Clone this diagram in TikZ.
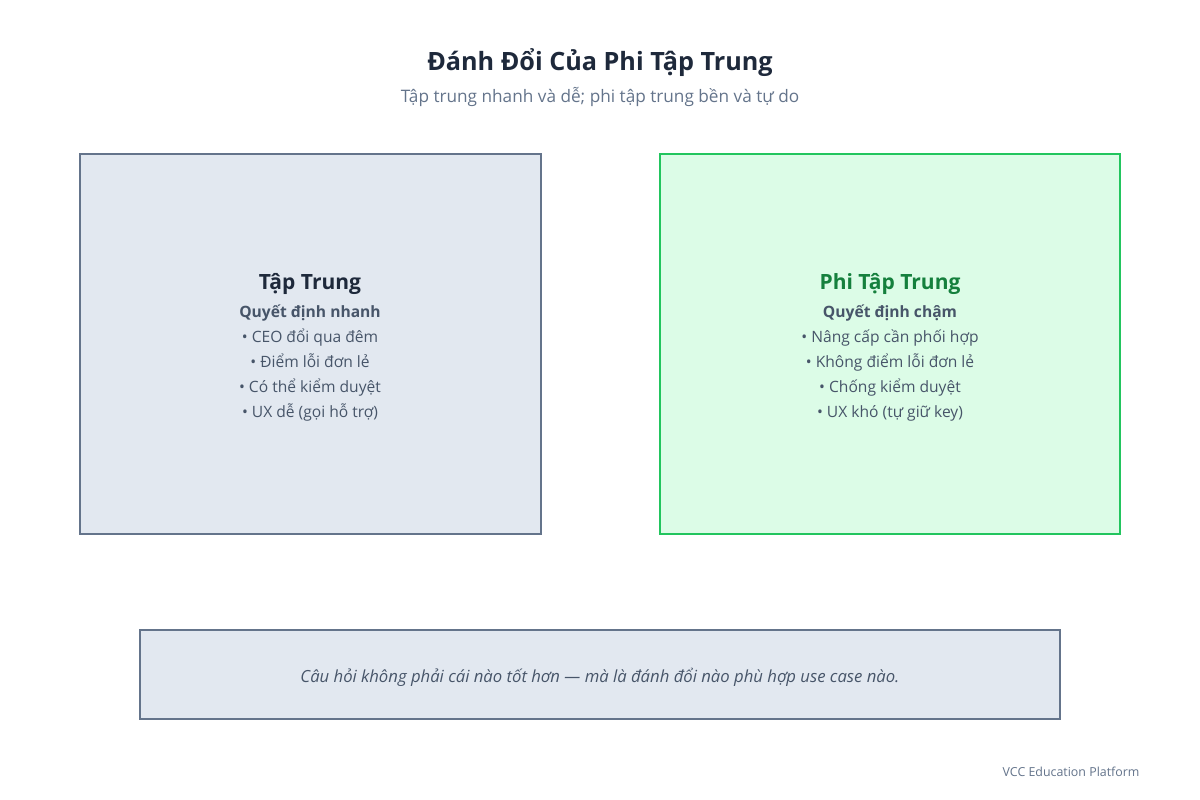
\documentclass[tikz,border=0pt]{standalone}
\usepackage{fontspec}
\setmainfont{Open Sans}
\definecolor{ink}{HTML}{1E293B}
\definecolor{slate}{HTML}{475569}
\definecolor{muted}{HTML}{64748B}
\definecolor{greyfill}{HTML}{E2E8F0}
\definecolor{greenfill}{HTML}{DCFCE7}
\definecolor{greenline}{HTML}{22C55E}
\definecolor{greenink}{HTML}{15803D}
\tikzset{
	card/.style = {draw = muted, fill = greyfill, line width = 2pt},
	greencard/.style = {draw = greenline, fill = greenfill, line width = 2pt},
	heading/.style = {font = \fontsize{21}{25}\selectfont\bfseries, text = ink},
	subhead/.style = {font = \fontsize{15.6}{19}\selectfont\bfseries, text = slate},
	bullet/.style = {font = \fontsize{15.6}{19}\selectfont, text = slate, text height = 12pt, text depth = 4pt}
}
\begin{document}
\begin{tikzpicture}[x = 1pt, y = -1pt]
		\useasboundingbox[fill = white] (0,0) rectangle (1200,800);
		\node[font = \fontsize{25.2}{30}\selectfont\bfseries, text = ink] (title) at (600,63) {Đánh Đổi Của Phi Tập Trung};
		\node[font = \fontsize{17.2}{20}\selectfont, text = muted] (subtitle) at (600,97) {Tập trung nhanh và dễ; phi tập trung bền và tự do};
		\draw[card] (80,154) rectangle (541,534);
		\node[heading] (leftHead) at (310,284) {Tập Trung};
		\node[subhead] (leftSub) at (310,313) {Quyết định nhanh};
		\node[bullet] (leftA) at (310,338) {• CEO đổi qua đêm};
		\node[bullet] (leftB) at (310,363) {• Điểm lỗi đơn lẻ};
		\node[bullet] (leftC) at (310,388) {• Có thể kiểm duyệt};
		\node[bullet] (leftD) at (310,413) {• UX dễ (gọi hỗ trợ)};
		\draw[greencard] (660,154) rectangle (1120,534);
		\node[heading, text = greenink] (rightHead) at (890,284) {Phi Tập Trung};
		\node[subhead] (rightSub) at (890,313) {Quyết định chậm};
		\node[bullet] (rightA) at (890,338) {• Nâng cấp cần phối hợp};
		\node[bullet] (rightB) at (890,363) {• Không điểm lỗi đơn lẻ};
		\node[bullet] (rightC) at (890,388) {• Chống kiểm duyệt};
		\node[bullet] (rightD) at (890,413) {• UX khó (tự giữ key)};
		\draw[card] (140,630) rectangle (1060,719);
		\node[font = \fontsize{16.7}{20}\selectfont\itshape, text = slate] (note) at (600,677) {Câu hỏi không phải cái nào tốt hơn — mà là đánh đổi nào phù hợp use case nào.};
		\node[font = \fontsize{12.4}{15}\selectfont, text = muted, anchor = east] (footer) at (1143,772) {VCC Education Platform};
	\end{tikzpicture}
\end{document}
